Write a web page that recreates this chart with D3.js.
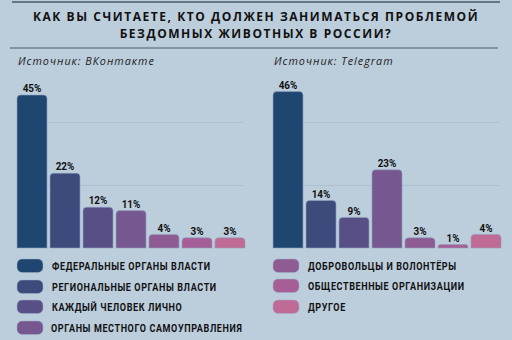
<!DOCTYPE html>
<html><head><meta charset="utf-8">
<script src="https://cdn.jsdelivr.net/npm/d3@7/dist/d3.min.js"></script>
<style>
html,body{margin:0;padding:0;background:#bccddc;}
svg{display:block;}
</style></head>
<body>
<svg id="c" width="512" height="340"></svg>
<script>
const categories = ["ФЕДЕРАЛЬНЫЕ ОРГАНЫ ВЛАСТИ","РЕГИОНАЛЬНЫЕ ОРГАНЫ ВЛАСТИ","КАЖДЫЙ ЧЕЛОВЕК ЛИЧНО","ОРГАНЫ МЕСТНОГО САМОУПРАВЛЕНИЯ","ДОБРОВОЛЬЦЫ И ВОЛОНТЁРЫ","ОБЩЕСТВЕННЫЕ ОРГАНИЗАЦИИ","ДРУГОЕ"];
const colors = ["#1f4571","#3c4a7c","#574f86","#77578f","#8e5b93","#a55f96","#c06b95"];
const vkValues = [45,22,12,11,4,3,3];
const tgValues = [46,14,9,23,3,1,4];
const gridValues = [18.5,37];
const titleLines = ["КАК ВЫ СЧИТАЕТЕ, КТО ДОЛЖЕН ЗАНИМАТЬСЯ ПРОБЛЕМОЙ","БЕЗДОМНЫХ ЖИВОТНЫХ В РОССИИ?"];
const sources = ["Источник: ВКонтакте","Источник: Telegram"];

const svg = d3.select("#c");
svg.append("rect").attr("width",512).attr("height",340).attr("fill","#bccddc");
svg.append("line").attr("x1",12).attr("x2",500).attr("y1",2).attr("y2",2).attr("stroke","#667586").attr("stroke-width",2);
svg.append("line").attr("x1",10).attr("x2",498).attr("y1",48).attr("y2",48).attr("stroke","#4d5a68").attr("stroke-width",1);
svg.selectAll(".t").data(titleLines).join("text")
  .attr("x",256).attr("y",(d,i)=>21.4+i*16.4).attr("text-anchor","middle")
  .attr("font-family","'Open Sans',sans-serif").attr("font-weight",700).attr("font-size",12)
  .attr("letter-spacing",1.55).attr("fill","#111").text(d=>d);

const narrow = "Roboto,'Open Sans',sans-serif";
const y = d3.scaleLinear().domain([0,50]).range([248,78]);
const panels = [{x0:17,vals:vkValues,src:sources[0]},{x0:273,vals:tgValues,src:sources[1]}];
panels.forEach(p=>{
  const g = svg.append("g");
  g.append("text").attr("x",p.x0+1).attr("y",64.5).attr("font-family","'Open Sans',sans-serif")
    .attr("font-style","italic").attr("font-size",10.8).attr("letter-spacing",1).attr("fill","#222").text(p.src);
  const x = d3.scaleBand().domain(d3.range(categories.length)).range([p.x0,p.x0+228]).paddingInner(0.09).paddingOuter(0);
  g.selectAll(".grid").data(gridValues).join("line")
    .attr("x1",p.x0+30).attr("x2",p.x0+227).attr("y1",d=>Math.round(y(d))+0.5).attr("y2",d=>Math.round(y(d))+0.5)
    .attr("stroke","#aebfd0").attr("stroke-width",1);
  const r=3.5;
  g.selectAll(".bar").data(p.vals).join("path")
    .attr("d",(d,i)=>{
      const x0=x(i), w=x.bandwidth(), y0=y(d), y1=y(0);
      const rr=Math.min(r,(y1-y0)/1.5);
      return `M${x0},${y1}V${y0+rr}Q${x0},${y0} ${x0+rr},${y0}H${x0+w-rr}Q${x0+w},${y0} ${x0+w},${y0+rr}V${y1}Z`;
    })
    .attr("fill",(d,i)=>colors[i]).attr("stroke","#8fa3bd").attr("stroke-width",0.6);
  g.selectAll(".lbl").data(p.vals).join("text")
    .attr("transform",(d,i)=>`translate(${x(i)+x.bandwidth()/2},${y(d)-2.8}) scale(0.92,1)`)
    .attr("text-anchor","middle")
    .attr("font-family",narrow)
    .attr("font-weight",700).attr("font-size",10.8).attr("fill","#111").text(d=>d+"%");
});

const legendPos = [[17,259],[17,280],[17,300],[17,321],[273,259],[273,279],[273,300]];
const lg = svg.selectAll(".lg").data(categories).join("g").attr("transform",(d,i)=>`translate(${legendPos[i][0]},${legendPos[i][1]})`);
lg.append("rect").attr("width",26).attr("height",13.5).attr("rx",5).attr("fill",(d,i)=>colors[i]).attr("stroke","#9fb0c8").attr("stroke-width",0.5);
lg.append("text").attr("transform",(d,i)=>`translate(${i===3?34:35},10.6) scale(0.86,1)`)
  .attr("font-family",narrow).attr("font-weight",700)
  .attr("font-size",10.5).attr("letter-spacing",0.7).attr("fill","#111").text(d=>d);
</script>
</body></html>
